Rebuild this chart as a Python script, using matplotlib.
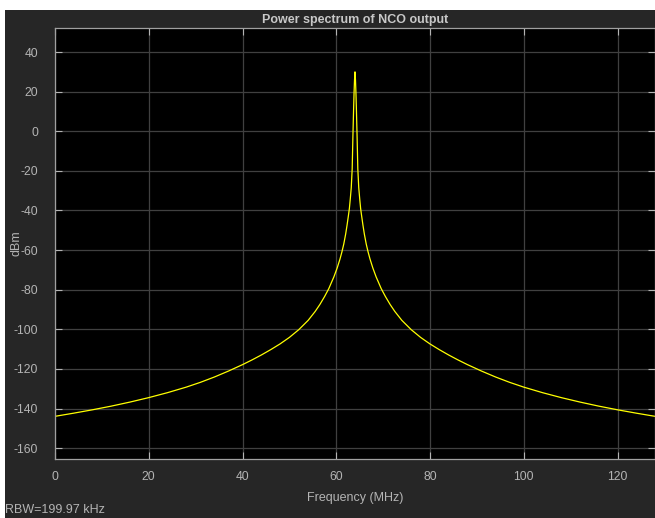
import matplotlib.pyplot as plt
from matplotlib.patches import Rectangle

plt.rcParams['font.family'] = ['Liberation Sans', 'DejaVu Sans']
plt.rcParams['axes.unicode_minus'] = False

# spectrum (MHz, dBm), tone at 64 MHz
freq_mhz = [0.0, 4.0, 8.0, 12.0, 16.0, 20.0, 24.0, 28.0, 31.0, 34.0,
            37.0, 40.0, 42.0, 44.0, 46.0, 48.0, 50.0, 52.0, 54.0, 55.5,
            56.5, 57.5, 58.4, 59.5, 60.2, 60.8, 61.2, 61.6, 62.0, 62.3,
            62.6, 62.8, 63.0, 63.2, 63.4, 63.55, 63.7, 63.8, 63.9,
            64.0,
            64.1, 64.2, 64.3, 64.45, 64.6, 64.8, 65.0, 65.2, 65.4, 65.7,
            66.0, 66.4, 66.8, 67.2, 67.8, 68.5, 69.6, 70.5, 71.5, 72.5,
            74.0, 76.0, 78.0, 80.0, 82.0, 84.0, 86.0, 88.0, 91.0, 94.0,
            97.0, 100.0, 104.0, 108.0, 112.0, 116.0, 120.0, 124.0, 128.0]
power_dbm = [-143.95, -142.35, -140.65, -138.8, -136.75, -134.5, -132.0, -129.2, -126.8, -124.1,
             -121.1, -117.85, -115.5, -113.0, -110.3, -107.4, -104.1, -100.2, -95.5, -91.0,
             -87.5, -83.5, -79.5, -73.5, -69.0, -64.5, -61.0, -57.0, -52.0, -47.5,
             -42.5, -39.0, -34.0, -28.5, -19.0, -3.0, 11.0, 19.5, 26.0,
             30.0,
             26.0, 19.5, 11.0, -3.0, -19.0, -28.5, -34.0, -39.0, -42.5, -47.5,
             -52.0, -57.0, -61.0, -64.5, -69.0, -73.5, -79.5, -83.5, -87.5, -91.0,
             -95.5, -100.2, -104.1, -107.4, -110.3, -113.0, -115.5, -117.85, -121.1, -124.1,
             -126.8, -129.2, -132.0, -134.5, -136.75, -138.8, -140.65, -142.35, -143.95]

x_ticks = [0, 20, 40, 60, 80, 100, 120]
y_ticks = [40, 20, 0, -20, -40, -60, -80, -100, -120, -140, -160]

bg = '#262626'
txt = '#b4b4b4'

fig = plt.figure(figsize=(6.55, 5.18), dpi=100, facecolor=bg)
# white strips of the original screenshot
fig.patches.append(Rectangle((0, 508/518), 1, 10/518, transform=fig.transFigure,
                             facecolor='white', edgecolor='none', zorder=0))
fig.patches.append(Rectangle((0, 0), 5/655, 1, transform=fig.transFigure,
                             facecolor='white', edgecolor='none', zorder=0))

ax = fig.add_axes([55/655, 59/518, 600/655, 430.7/518])
ax.set_facecolor('black')
ax.plot(freq_mhz, power_dbm, color='#ffff00', lw=0.9)

ax.set_xlim(0, 128)
ax.set_ylim(-165.5, 52.0)
ax.set_xticks(x_ticks)
ax.set_yticks(y_ticks)
ax.grid(True, color='#404040', lw=0.9)
ax.set_axisbelow(True)
ax.tick_params(direction='in', length=5, width=0.8, colors=txt, labelsize=8.7,
               top=True, right=True)
ax.tick_params(axis='y', pad=12)
ax.tick_params(axis='x', pad=9)
for s in ax.spines.values():
    s.set_color('#a0a0a0')
    s.set_linewidth(0.9)

ax.set_title('Power spectrum of NCO output', color='#c8c8c8', fontsize=9,
             fontweight='bold', pad=4)
ax.set_xlabel('Frequency (MHz)', color=txt, fontsize=9, labelpad=6)
ax.set_ylabel('dBm', color=txt, fontsize=9)
ax.yaxis.set_label_coords(-33/600, 0.5)

fig.text(5/655, 2/518, 'RBW=199.97 kHz', color=txt, fontsize=9, ha='left', va='bottom')

fig.savefig('out.png', facecolor=bg)
